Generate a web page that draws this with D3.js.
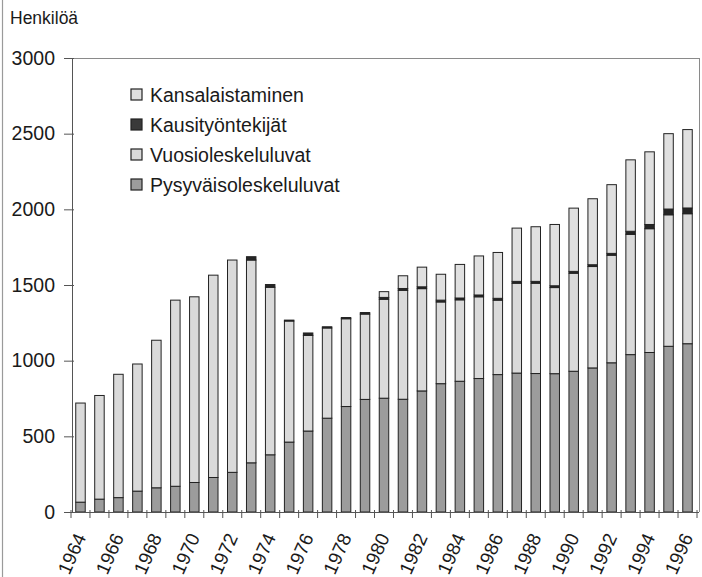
<!DOCTYPE html>
<html>
<head>
<meta charset="utf-8">
<script src="https://cdn.jsdelivr.net/npm/d3@7"></script>
<style>
  html, body { margin: 0; padding: 0; background: #fff; }
  svg { display: block; font-family: "Liberation Sans", Arial, Helvetica, sans-serif; }
</style>
</head>
<body>
<svg id="chart" width="702" height="577"></svg>
<script>
// ---- data ----
const years = d3.range(1964, 1997).map(String);
const pysyva = [65, 85, 95, 138, 160, 170, 195, 228, 262, 325, 378, 462, 535, 620, 697, 744, 752, 745, 800, 848, 864, 882, 908, 918, 915, 914, 930, 952, 986, 1040, 1054, 1095, 1112];
const vuosi  = [655, 685, 815, 840, 975, 1230, 1227, 1337, 1403, 1340, 1107, 800, 632, 596, 580, 564, 654, 720, 676, 540, 538, 540, 492, 594, 597, 569, 648, 670, 711, 795, 818, 869, 859];
const kausi  = [0, 0, 0, 0, 0, 0, 0, 0, 0, 22, 18, 6, 16, 8, 8, 10, 12, 12, 12, 12, 12, 12, 12, 12, 12, 12, 12, 12, 12, 20, 28, 38, 38];
const kansal = [0, 0, 0, 0, 0, 0, 0, 0, 0, 0, 0, 0, 0, 0, 0, 0, 38, 84, 130, 171, 222, 258, 303, 352, 361, 405, 418, 436, 454, 472, 480, 498, 518];
const yTicks = [0, 500, 1000, 1500, 2000, 2500, 3000];
const xLabelYears = years.filter((yr, i) => i % 2 === 0);
const seriesNames = ["Pysyväisoleskeluluvat", "Vuosioleskeluluvat", "Kausityöntekijät", "Kansalaistaminen"];
const legendOrder = ["Kansalaistaminen", "Kausityöntekijät", "Vuosioleskeluluvat", "Pysyväisoleskeluluvat"];
const colors = {
  "Pysyväisoleskeluluvat": "#9c9c9c",
  "Vuosioleskeluluvat": "#dadada",
  "Kausityöntekijät": "#262626",
  "Kansalaistaminen": "#e0e0e0"
};

const table = years.map((yr, i) => ({
  year: yr,
  "Pysyväisoleskeluluvat": pysyva[i],
  "Vuosioleskeluluvat": vuosi[i],
  "Kausityöntekijät": kausi[i],
  "Kansalaistaminen": kansal[i]
}));

// ---- layout ----
const svg = d3.select("#chart");
const plotL = 72, plotR = 699, plotT = 58, plotB = 512;

svg.append("rect").attr("width", 702).attr("height", 577).attr("fill", "#fff");
// scan edge line at left
svg.append("line").attr("x1", 2.5).attr("x2", 2.5).attr("y1", 0).attr("y2", 577)
  .attr("stroke", "#9a9a9a").attr("stroke-width", 1.2);

const x = d3.scaleBand().domain(years).range([71, 697]).paddingInner(0.5).paddingOuter(0.25);
const y = d3.scaleLinear().domain([0, 3000]).range([plotB, plotT]);

// frame top and right
svg.append("line").attr("x1", plotL).attr("x2", plotR).attr("y1", plotT + 0.5).attr("y2", plotT + 0.5)
  .attr("stroke", "#8a8a8a").attr("stroke-width", 1);
svg.append("line").attr("x1", plotR + 0.5).attr("x2", plotR + 0.5).attr("y1", plotT).attr("y2", plotB)
  .attr("stroke", "#8a8a8a").attr("stroke-width", 1);

// y axis
const yAxis = d3.axisLeft(y).tickValues(yTicks).tickSize(7).tickPadding(10).tickFormat(d3.format("d"));
const gy = svg.append("g").attr("transform", `translate(${plotL},0)`).call(yAxis);
gy.select(".domain").attr("stroke", "#555");
gy.selectAll(".tick line").attr("stroke", "#555").attr("x2", -8).attr("x1", 2);
gy.selectAll(".tick text").attr("font-size", 19.5).attr("fill", "#1a1a1a")
  .attr("font-family", "'Liberation Sans', Arial, sans-serif");

// stacked bars
const stack = d3.stack().keys(seriesNames);
const stacked = stack(table);
svg.append("g").selectAll("g").data(stacked).join("g")
  .attr("fill", d => colors[d.key])
  .selectAll("rect").data(d => d.filter(p => p[1] - p[0] > 0)).join("rect")
  .attr("x", d => x(d.data.year))
  .attr("width", x.bandwidth())
  .attr("y", d => y(d[1]))
  .attr("height", d => y(d[0]) - y(d[1]))
  .attr("stroke", "#222")
  .attr("stroke-width", 1);

// x axis line
svg.append("line").attr("x1", plotL - 4).attr("x2", plotR).attr("y1", plotB + 0.5).attr("y2", plotB + 0.5)
  .attr("stroke", "#555").attr("stroke-width", 1);
// x ticks at band boundaries
const step = x.step();
const boundaries = years.map(yr => x(yr) - step * x.paddingInner() / 2)
  .concat([x(years[years.length - 1]) + x.bandwidth() + step * x.paddingInner() / 2]);
svg.append("g").selectAll("line").data(boundaries).join("line")
  .attr("x1", d => d).attr("x2", d => d)
  .attr("y1", plotB - 2).attr("y2", plotB + 6)
  .attr("stroke", "#555").attr("stroke-width", 1);

// x labels
svg.append("g").selectAll("text").data(xLabelYears).join("text")
  .attr("transform", d => `translate(${x(d) + x.bandwidth() / 2 + 6},${plotB + 25}) rotate(-66)`)
  .attr("text-anchor", "end")
  .attr("font-size", 19)
  .attr("fill", "#1a1a1a")
  .text(d => d);

// y title
svg.append("text").attr("x", 10).attr("y", 24).attr("font-size", 17.5).attr("fill", "#1a1a1a").text("Henkilöä");

// legend
const lg = svg.append("g").attr("transform", "translate(131,89)");
const rows = lg.selectAll("g").data(legendOrder).join("g")
  .attr("transform", (d, i) => `translate(0,${i * 30})`);
rows.append("rect").attr("width", 11).attr("height", 11)
  .attr("fill", d => d === "Kausityöntekijät" ? "#3a3a3a" : colors[d])
  .attr("stroke", "#222").attr("stroke-width", 1.2);
rows.append("text").attr("x", 19).attr("y", 12.5).attr("font-size", 19.5).attr("fill", "#1a1a1a").text(d => d);
</script>
</body>
</html>
